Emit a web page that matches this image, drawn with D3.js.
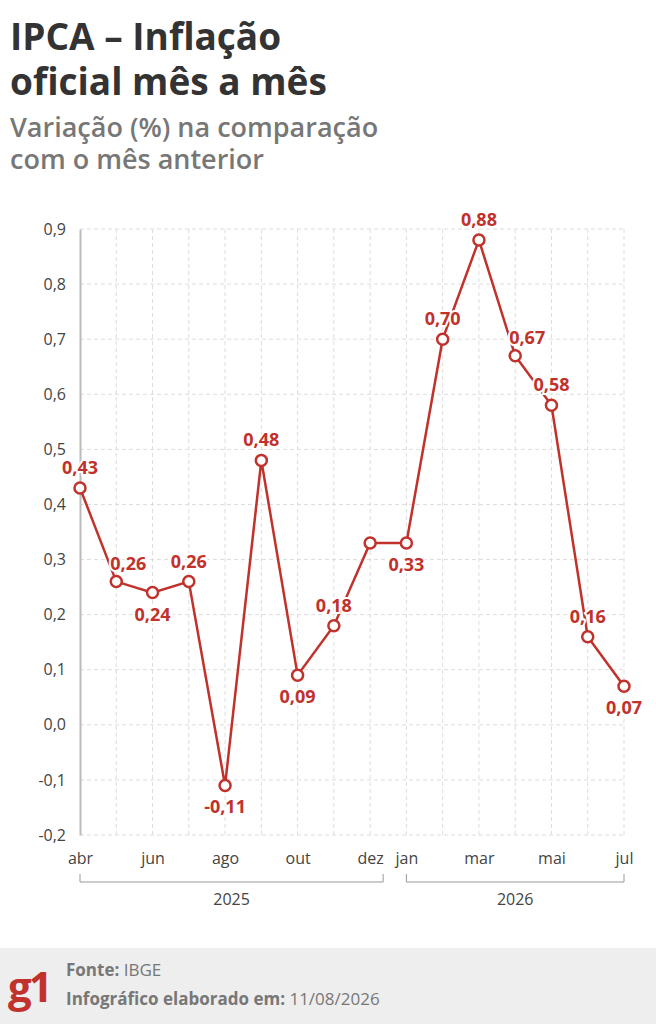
<!DOCTYPE html>
<html><head><meta charset="utf-8">
<script src="https://cdn.jsdelivr.net/npm/d3@7"></script>
<style>body{margin:0;background:#fff;font-family:"Open Sans",sans-serif}</style>
</head><body><div id="chart"></div>
<script>
const months = ["abr","mai","jun","jul","ago","set","out","nov","dez","jan","fev","mar","abr2","mai2","jun2","jul2"]
const values = [0.43,0.26,0.24,0.26,-0.11,0.48,0.09,0.18,0.33,0.33,0.70,0.88,0.67,0.58,0.16,0.07]
// label placement: a = above, b = below, ar = above right, n = none
const labelPos = ["a","ar","b","a","b","a","b","a","n","b","a","a","ar","a","a","b"]
const tickShown = ["abr","jun","ago","out","dez","jan","mar","mai2","jul2"]
const yTicks = [0.9,0.8,0.7,0.6,0.5,0.4,0.3,0.2,0.1,0.0,-0.1,-0.2]
const years = [{label:"2025", from:"abr", to:"dez"}, {label:"2026", from:"jan", to:"jul2"}]

const W = 656, H = 1024
const RED = "#c0322b"
const svg = d3.select("#chart").append("svg").attr("width", W).attr("height", H)

const x = d3.scalePoint().domain(months).range([80, 624])
const y = d3.scaleLinear().domain([-0.2, 0.9]).range([835, 229])
const fmt = (v, p) => d3.format(p)(v).replace(".", ",").replace("−", "-")

// title
svg.append("text").attr("x", 10).attr("y", 50).attr("font-size", 37).attr("font-weight", 700).attr("fill", "#333").text("IPCA – Inflação")
svg.append("text").attr("x", 10).attr("y", 95).attr("font-size", 37).attr("font-weight", 700).attr("fill", "#333").text("oficial mês a mês")
svg.append("text").attr("x", 10).attr("y", 137).attr("font-size", 27).attr("font-weight", 600).attr("fill", "#777").text("Variação (%) na comparação")
svg.append("text").attr("x", 10).attr("y", 169).attr("font-size", 27).attr("font-weight", 600).attr("fill", "#777").text("com o mês anterior")

// grid
svg.append("g").selectAll("line").data(yTicks).join("line")
  .attr("x1", 80).attr("x2", 624).attr("y1", d => y(d)).attr("y2", d => y(d))
  .attr("stroke", "#ddd").attr("stroke-dasharray", "4,3")
svg.append("g").selectAll("line").data(months.slice(1)).join("line")
  .attr("x1", d => x(d)).attr("x2", d => x(d)).attr("y1", 229).attr("y2", 835)
  .attr("stroke", "#ddd").attr("stroke-dasharray", "4,3")

// y axis
const yAxis = svg.append("g").attr("transform", "translate(80,0)")
  .call(d3.axisLeft(y).tickValues(yTicks).tickSize(0).tickPadding(14).tickFormat(d => fmt(d, ".1f")))
yAxis.select(".domain").attr("stroke", "#bbb").attr("stroke-width", 2)
yAxis.selectAll("text").attr("font-size", 16).attr("fill", "#444").attr("font-family", "Open Sans")

// x axis
const xAxis = svg.append("g").attr("transform", "translate(0,835)")
  .call(d3.axisBottom(x).tickValues(tickShown).tickSize(0).tickPadding(18).tickFormat(d => d.replace("2", "")))
xAxis.select(".domain").remove()
xAxis.selectAll("text").attr("font-size", 16).attr("fill", "#444").attr("font-family", "Open Sans")

// year brackets
years.forEach(yr => {
  const x0 = x(yr.from), x1 = yr.to === "dez" ? x(yr.to) + 13 : x(yr.to)
  svg.append("path").attr("d", `M${x0},874V882H${x1}V874`).attr("fill", "none").attr("stroke", "#999")
  svg.append("text").attr("x", (x0 + x1) / 2).attr("y", 905).attr("text-anchor", "middle")
    .attr("font-size", 16).attr("fill", "#444").text(yr.label)
})

// line
svg.append("path").datum(values)
  .attr("d", d3.line().x((d, i) => x(months[i])).y(d => y(d)))
  .attr("fill", "none").attr("stroke", RED).attr("stroke-width", 2.5)
svg.append("g").selectAll("circle").data(values).join("circle")
  .attr("cx", (d, i) => x(months[i])).attr("cy", d => y(d)).attr("r", 5.5)
  .attr("fill", "#fff").attr("stroke", RED).attr("stroke-width", 2.5)

// labels
const lg = svg.append("g")
values.forEach((v, i) => {
  const p = labelPos[i]
  if (p === "n") return
  let dx = 0, dy = p === "b" ? 28 : -14
  if (p === "ar") { dx = 12; dy = -12 }
  lg.append("text").attr("x", x(months[i]) + dx).attr("y", y(v) + dy)
    .attr("text-anchor", "middle").attr("font-size", 18).attr("font-weight", 700)
    .attr("fill", RED).attr("stroke", "#fff").attr("stroke-width", 4).attr("paint-order", "stroke")
    .text(fmt(v, ".2f"))
})

// footer
svg.append("rect").attr("x", 0).attr("y", 948).attr("width", W).attr("height", 76).attr("fill", "#eeeeee")
svg.append("text").attr("x", 8).attr("y", 1002).attr("font-size", 42).attr("font-weight", 700).attr("fill", RED).attr("letter-spacing", -3).text("g1")
const f1 = svg.append("text").attr("x", 66).attr("y", 976).attr("font-size", 17).attr("fill", "#777")
f1.append("tspan").attr("font-weight", 700).text("Fonte: ")
f1.append("tspan").text("IBGE")
const f2 = svg.append("text").attr("x", 66).attr("y", 1005).attr("font-size", 17).attr("fill", "#777")
f2.append("tspan").attr("font-weight", 700).text("Infográfico elaborado em: ")
f2.append("tspan").text("11/08/2026")
</script></body></html>
